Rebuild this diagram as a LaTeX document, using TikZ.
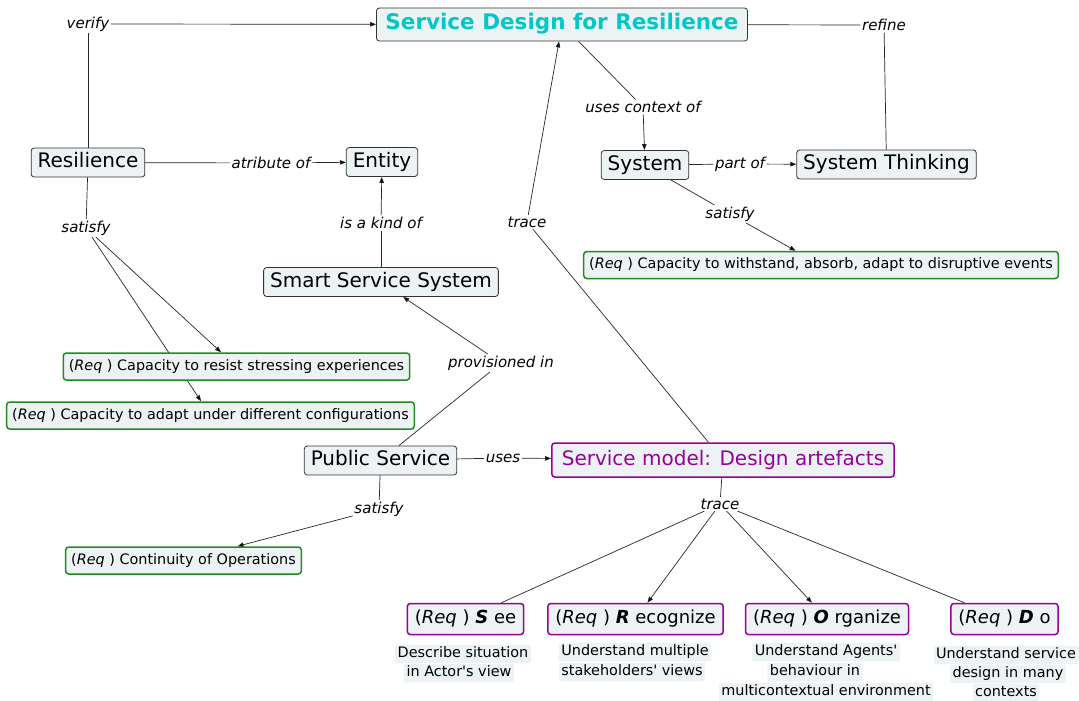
\documentclass[tikz,border=0pt]{standalone}
\usepackage{fontspec}
\setmainfont{DejaVu Sans}
\usetikzlibrary{arrows.meta,backgrounds}

\definecolor{boxfill}{HTML}{EDF3F5}
\definecolor{reqgreen}{HTML}{1E8C1E}
\definecolor{modelpurple}{HTML}{990099}
\definecolor{titlecyan}{HTML}{00C8C8}
\definecolor{edgegray}{HTML}{333333}

\begin{document}
\begin{tikzpicture}[x=1pt, y=-1pt, >={Triangle[length=6pt, width=4.5pt]},
    concept/.style={rectangle, rounded corners=3pt, draw=edgegray, line width=0.8pt, fill=boxfill, inner xsep=6.5pt, minimum height=29pt, text height=14.5pt, text depth=4pt, font=\fontsize{20}{23}\selectfont},
    headline/.style={concept, text=titlecyan, minimum height=33pt, inner xsep=9pt, text height=16pt, text depth=5pt, font=\bfseries\fontsize{21.5}{24}\selectfont},
    model/.style={concept, draw=modelpurple, line width=1.5pt, text=modelpurple, inner xsep=10pt, minimum height=34pt},
    req/.style={rectangle, rounded corners=3pt, draw=reqgreen, line width=1.5pt, fill=boxfill, inner xsep=5.5pt, minimum height=27pt, text height=10.5pt, text depth=3pt, font=\fontsize{14.4}{16}\selectfont},
    letter/.style={req, draw=modelpurple, inner xsep=7.5pt, minimum height=31pt, text height=13pt, text depth=4pt, font=\fontsize{18}{20}\selectfont},
    link/.style={inner sep=1.5pt, font=\itshape\fontsize{15}{17}\selectfont},
    note/.style={fill=boxfill, rounded corners=2pt, inner sep=2.5pt, text height=10.5pt, text depth=3pt, font=\fontsize{14.4}{16}\selectfont},
    wire/.style={draw=black!85, line width=0.7pt}]

    \useasboundingbox (0,0) rectangle (1079,701);

    % Concepts.
    \node[headline] (sdr) at (562,24.5) {Service Design for Resilience};
    \node[concept] (res) at (88,162.5) {Resilience};
    \node[concept] (ent) at (382,162) {Entity};
    \node[concept] (sys) at (645,165) {System};
    \node[concept] (sth) at (886.5,164.5) {System Thinking};
    \node[concept] (sss) at (381,282) {Smart Service System};
    \node[concept] (pub) at (380.5,460.5) {Public Service};
    \node[model] (sm) at (723,460) {Service model: Design artefacts};

    % Requirements.
    \node[req] (rw) at (821,265) {(\textit{Req} ) Capacity to withstand, absorb, adapt to disruptive events};
    \node[req] (rr) at (236.5,366.5) {(\textit{Req} ) Capacity to resist stressing experiences};
    \node[req] (ra) at (210.5,415.5) {(\textit{Req} ) Capacity to adapt under different configurations};
    \node[req] (rc) at (183.5,560.5) {(\textit{Req} ) Continuity of Operations};

    % SROD requirements.
    \foreach \name/\x/\rest in {S/465.5/ee, R/635.5/ecognize, O/827/rganize, D/1004.5/o}
        \node[letter] (req-\name) at (\x,619) {(\textit{Req} ) \textbf{\textit{\name}} \rest};

    % Notes under them.
    \node[note] (dS-1) at (463,654) {Describe situation};
    \node[note] (dS-2) at (459,673) {in Actor\textquotesingle s view};
    \node[note] (dR-1) at (635,652) {Understand multiple};
    \node[note] (dR-2) at (632,672) {stakeholders\textquotesingle\ views};
    \node[note] (dO-1) at (826,652) {Understand Agents\textquotesingle};
    \node[note] (dO-2) at (815,672) {behaviour in};
    \node[note] (dO-3) at (826,692) {multicontextual environment};
    \node[note] (dD-1) at (1006,655) {Understand service};
    \node[note] (dD-2) at (1008,674) {design in many};
    \node[note] (dD-3) at (1006,693) {contexts};

    % Link labels.
    \node[link] (verify) at (88,24) {verify};
    \node[link] (refine) at (884,25) {refine};
    \node[link] (attr) at (271,163) {atribute of};
    \node[link] (kind) at (381,223) {is a kind of};
    \node[link] (ctx) at (643,107) {uses context of};
    \node[link] (part) at (740,164) {part of};
    \node[link] (satsys) at (730,214) {satisfy};
    \node[link] (satres) at (86,228) {satisfy};
    \node[link] (prov) at (501,363) {provisioned in};
    \node[link] (uses) at (503,458) {uses};
    \node[link] (satpub) at (379,509) {satisfy};
    \node[link] (traceup) at (527,222) {trace};
    \node[link] (tracedown) at (720,504) {trace};

    \begin{pgfonlayer}{background}
        % Top links.
        \path[wire] (res) edge (verify) (verify) edge[->] (sdr);
        \path[wire] (sdr) edge (refine) (refine) edge (sth);
        \path[wire] (sdr) edge (ctx) (ctx) edge[->] (sys);
        \path[wire] (sys) edge (part) (part) edge[->] (sth);
        \path[wire] (sys) edge (satsys) (satsys) edge[->] (rw);

        % Resilience links.
        \path[wire] (res) edge (attr) (attr) edge[->] (ent);
        \path[wire] (sss) edge (kind) (kind) edge[->] (ent);
        \path[wire] (res) edge (satres) (satres) edge[->] (rr) (satres) edge[->] (ra);

        % Public service links.
        \path[wire] (pub) edge (prov) (prov) edge[->] (sss);
        \path[wire] (pub) edge (uses) (uses) edge[->] (sm);
        \path[wire] (pub) edge (satpub) (satpub) edge[->] (rc);

        % Trace links.
        \path[wire] (sm) edge (traceup) (traceup) edge[->] (sdr);
        \path[wire] (sm) edge (tracedown);
        \foreach \dest in {S,D}
            \path[wire] (tracedown) edge (req-\dest);
        \foreach \dest in {R,O}
            \path[wire] (tracedown) edge[->] (req-\dest);
    \end{pgfonlayer}

\end{tikzpicture}
\end{document}
